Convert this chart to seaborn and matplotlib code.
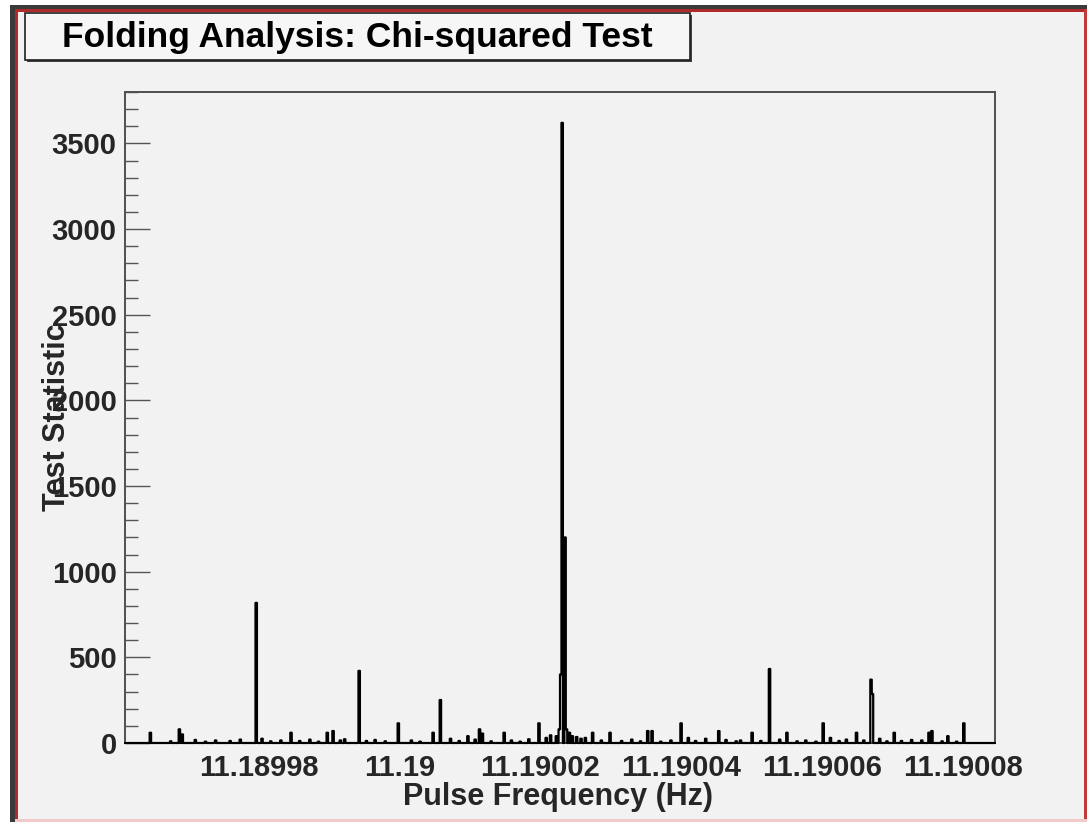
import numpy as np
import pandas as pd
import matplotlib
matplotlib.use("Agg")
import matplotlib.pyplot as plt
from matplotlib.patches import Rectangle
from matplotlib.ticker import MultipleLocator, FixedLocator, FixedFormatter
import seaborn as sns

# ---------------- data ----------------
title = "Folding Analysis: Chi-squared Test"
x_label = "Pulse Frequency (Hz)"
y_label = "Test Statistic"

x_tick_values = [11.18998, 11.19, 11.19002, 11.19004, 11.19006, 11.19008]
x_tick_labels = ["11.18998", "11.19", "11.19002", "11.19004", "11.19006", "11.19008"]
y_tick_values = [0, 500, 1000, 1500, 2000, 2500, 3000, 3500]

freq_range = (11.189961, 11.1900846)
n_bins = 600

# prominent peaks
peak_freqs = [11.1899796, 11.1899943, 11.1900058, 11.1900229, 11.1900232,
              11.1900235, 11.1900525, 11.1900669, 11.1900672]
peak_stats = [818, 421, 251, 400, 3620, 1200, 432, 370, 286]

# secondary spikes
spike_freqs = [11.1899647, 11.1899688, 11.1899692, 11.1899846, 11.1899898,
               11.1899905, 11.1899999, 11.1900048, 11.1900098, 11.1900114,
               11.1900117, 11.1900148, 11.1900198, 11.1900222, 11.1900226,
               11.1900238, 11.1900241, 11.1900245, 11.1900275, 11.1900300,
               11.1900353, 11.1900359, 11.1900400, 11.1900410, 11.1900453,
               11.1900500, 11.1900551, 11.1900602, 11.1900612, 11.1900649,
               11.1900702, 11.1900752, 11.1900757, 11.1900780, 11.1900801]
spike_stats = [60, 80, 50, 60, 60,
               70, 115, 60, 40, 80,
               55, 60, 115, 40, 80,
               80, 60, 40, 60, 60,
               70, 70, 115, 30, 70,
               60, 60, 115, 30, 60,
               60, 60, 70, 40, 115]

# low-level baseline fluctuations
noise_freqs = [11.1899674, 11.1899710, 11.1899724, 11.1899738, 11.1899759,
               11.1899774, 11.1899805, 11.1899816, 11.1899831, 11.1899859,
               11.1899873, 11.1899885, 11.1899916, 11.1899923, 11.1899952,
               11.1899966, 11.1899980, 11.1900016, 11.1900030, 11.1900073,
               11.1900084, 11.1900108, 11.1900130, 11.1900158, 11.1900172,
               11.1900184, 11.1900208, 11.1900215, 11.1900251, 11.1900258,
               11.1900265, 11.1900286, 11.1900315, 11.1900329, 11.1900343,
               11.1900372, 11.1900386, 11.1900421, 11.1900436, 11.1900464,
               11.1900478, 11.1900485, 11.1900514, 11.1900540, 11.1900564,
               11.1900578, 11.1900592, 11.1900625, 11.1900635, 11.1900659,
               11.1900682, 11.1900692, 11.1900713, 11.1900727, 11.1900742,
               11.1900770, 11.1900792]
noise_stats = [10, 18, 8, 15, 12,
               20, 25, 10, 15, 12,
               20, 8, 15, 22, 12,
               18, 10, 15, 8, 25,
               12, 20, 10, 15, 8,
               22, 30, 45, 35, 25,
               30, 15, 12, 20, 10,
               8, 15, 12, 25, 18,
               10, 15, 12, 20, 10,
               15, 8, 12, 20, 15,
               25, 10, 12, 18, 15,
               10, 8]

df = pd.DataFrame({
    "freq": peak_freqs + spike_freqs + noise_freqs,
    "stat": peak_stats + spike_stats + noise_stats,
})

# ---------------- style ----------------
W, H, DPI = 1087, 822, 100
bg = "#f2f2f2"
sns.set_theme(style="white")
plt.rcParams["font.family"] = ["Liberation Sans", "DejaVu Sans"]
plt.rcParams["font.weight"] = "bold"

fig = plt.figure(figsize=(W / DPI, H / DPI), dpi=DPI, facecolor="white")


def fx(px):
    return px / W


def fy(py):
    return 1 - py / H


def frect(x0, y0, x1, y1, **kw):
    fig.patches.append(Rectangle((fx(x0), fy(y1)), fx(x1) - fx(x0), fy(y0) - fy(y1),
                                 transform=fig.transFigure, **kw))


# canvas frame (ROOT-like window)
frect(10, 5, 1087, 822, facecolor=bg, edgecolor="none", zorder=-10)
frect(10, 5, 15, 822, facecolor="#3a3a3a", edgecolor="none", zorder=-9)
frect(15, 9, 18, 822, facecolor="#b02a2a", edgecolor="none", zorder=-9)
frect(10, 5, 1087, 9, facecolor="#3a3a3a", edgecolor="none", zorder=-9)
frect(15, 9, 1087, 12, facecolor="#b02a2a", edgecolor="none", zorder=-9)
frect(1084, 9, 1087, 822, facecolor="#c03a3a", edgecolor="none", zorder=-9)
frect(15, 819, 1087, 822, facecolor="#f3c8c8", edgecolor="none", zorder=-9)

# title box with shadow
frect(27, 15, 692, 62, facecolor="#404040", edgecolor="none", zorder=2)
frect(25, 13, 690, 60, facecolor="#f6f6f6", edgecolor="#202020", linewidth=1.2, zorder=3)
fig.text(fx(357), fy(37), title, ha="center", va="center",
         fontsize=25.5, fontweight="bold", color="black", zorder=4)

# axes
ax = fig.add_axes([fx(125), fy(743), fx(995) - fx(125), fy(92) - fy(743)])
ax.set_zorder(1)
ax.set_facecolor(bg)

sns.histplot(data=df, x="freq", weights="stat", bins=n_bins, binrange=freq_range,
             element="step", fill=False, color="black", linewidth=1.6, ax=ax)
for ln in ax.lines:
    ln.set_clip_on(False)
    ln.set_zorder(3)

ax.set_xlim(freq_range)
ax.set_ylim(0, 3800)

ax.xaxis.set_major_locator(FixedLocator(x_tick_values))
ax.xaxis.set_major_formatter(FixedFormatter(x_tick_labels))
ax.yaxis.set_major_locator(FixedLocator(y_tick_values))
ax.yaxis.set_minor_locator(MultipleLocator(100))

ax.tick_params(axis="y", which="major", direction="in", length=18,
               width=1.0, color="#555555", labelsize=21, pad=6,
               left=True, right=False)
ax.tick_params(axis="y", which="minor", direction="in", length=9,
               width=1.0, color="#555555", left=True, right=False)
ax.tick_params(axis="x", which="both", length=0, labelsize=21, pad=8)
for lab in ax.get_xticklabels() + ax.get_yticklabels():
    lab.set_fontweight("bold")

for s in ax.spines.values():
    s.set_color("#505050")
    s.set_linewidth(1.4)
    s.set_visible(True)

ax.set_xlabel(x_label, fontsize=22, fontweight="bold")
ax.set_ylabel(y_label, fontsize=22, fontweight="bold")
ax.xaxis.set_label_coords(0.498, -0.083)
ax.xaxis.label.set_verticalalignment("center")
ax.yaxis.set_label_coords(-0.078, 0.5)
ax.yaxis.label.set_verticalalignment("center")

fig.savefig("out.png", dpi=DPI, facecolor="white")
